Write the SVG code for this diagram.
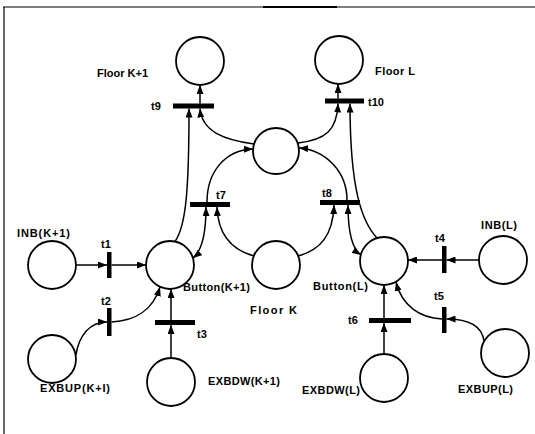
<svg xmlns="http://www.w3.org/2000/svg" width="535" height="434" viewBox="0 0 535 434">
<style>
.place{fill:#fff;stroke:#000;stroke-width:1.8}
.bar{fill:#000}
.arc{fill:none;stroke:#000;stroke-width:1.5}
.lbl{font-family:"Liberation Sans",Arial,sans-serif;font-weight:bold;font-size:11px;fill:#000}
.tl{font-family:"Liberation Sans",Arial,sans-serif;font-weight:bold;font-size:11px;fill:#000}
.frame{stroke:#000;fill:none}
</style>
<defs>
<marker id="ah" viewBox="0 0 9 7" refX="9" refY="3.5" markerWidth="9" markerHeight="7" markerUnits="userSpaceOnUse" orient="auto-start-reverse">
<path d="M0,0 L9,3.5 L0,7 z" fill="#000"/>
</marker>
</defs>
<rect width="535" height="434" fill="#fff"/>
<g id="frame">
<line class="frame" x1="3" y1="7" x2="535" y2="7" stroke-width="1.2"/>
<line class="frame" x1="263" y1="7" x2="337" y2="7" stroke-width="2.2"/>
<line class="frame" x1="4" y1="7" x2="4" y2="434" stroke-width="1.2"/>
</g>
<g id="connectors">
<path class="arc" d="M76 265 H107" marker-end="url(#ah)"/>
<path class="arc" d="M111.5 265 H146" marker-end="url(#ah)"/>
<path class="arc" d="M76 355 C79 335 90 322 107 322" marker-end="url(#ah)"/>
<path class="arc" d="M111.5 322 C135 321 153 310 160 287" marker-end="url(#ah)"/>
<path class="arc" d="M171 358 V325" marker-end="url(#ah)"/>
<path class="arc" d="M171 320 V289" marker-end="url(#ah)"/>
<path class="arc" d="M175 241.5 C186 226 189 190 189 108.5" marker-end="url(#ah)"/>
<path class="arc" d="M200 103.5 V85" marker-end="url(#ah)"/>
<path class="arc" d="M254 144 C225 140 202 132 200 108.5" marker-end="url(#ah)"/>
<path class="arc" d="M207 202 C207 172 225 150 253 149" marker-end="url(#ah)"/>
<path class="arc" d="M193 258 C203 250 206 232 206 207" marker-start="url(#ah)" marker-end="url(#ah)"/>
<path class="arc" d="M254 256 C232 250 218 236 217 207" marker-end="url(#ah)"/>
<path class="arc" d="M479 260 H446.5" marker-end="url(#ah)"/>
<path class="arc" d="M442 260 H408" marker-end="url(#ah)"/>
<path class="arc" d="M484 341 C482 326 470 319 446.5 319" marker-end="url(#ah)"/>
<path class="arc" d="M442 319 C420 318 402 306 396 282" marker-end="url(#ah)"/>
<path class="arc" d="M384 354 V323" marker-end="url(#ah)"/>
<path class="arc" d="M384 318 V285" marker-end="url(#ah)"/>
<path class="arc" d="M377 238 C362 222 350 190 350 103.5" marker-end="url(#ah)"/>
<path class="arc" d="M338 98.5 V84" marker-end="url(#ah)"/>
<path class="arc" d="M298 143 C326 140 337 130 338 103.5" marker-end="url(#ah)"/>
<path class="arc" d="M347 200 C347 172 326 150 299 148" marker-end="url(#ah)"/>
<path class="arc" d="M361 255 C352 249 348 230 348 205" marker-start="url(#ah)" marker-end="url(#ah)"/>
<path class="arc" d="M298 256 C320 250 333 236 334 205" marker-end="url(#ah)"/>
</g>
<g id="floorK1"><circle class="place" cx="200" cy="61" r="24"/><text class="lbl" x="97" y="77" textLength="51">Floor K+1</text></g>
<g id="floorL"><circle class="place" cx="339" cy="60" r="24"/><text class="lbl" x="375" y="75" textLength="40">Floor L</text></g>
<g id="moving"><circle class="place" cx="276" cy="151" r="23"/></g>
<g id="floorK"><circle class="place" cx="276" cy="265" r="24"/><text class="lbl" x="250" y="314" textLength="47">Floor K</text></g>
<g id="buttonK1"><circle class="place" cx="170" cy="265" r="24"/><text class="lbl" x="183" y="291" textLength="67">Button(K+1)</text></g>
<g id="buttonL"><circle class="place" cx="384" cy="261" r="24"/><text class="lbl" x="313" y="290" textLength="55">Button(L)</text></g>
<g id="inbK1"><circle class="place" cx="52" cy="265" r="24"/><text class="lbl" x="17" y="237" textLength="53">INB(K+1)</text></g>
<g id="inbL"><circle class="place" cx="503" cy="260" r="24"/><text class="lbl" x="481" y="229" textLength="36">INB(L)</text></g>
<g id="exbupK1"><circle class="place" cx="52" cy="359" r="24"/><text class="lbl" x="40" y="392" textLength="70">EXBUP(K+I)</text></g>
<g id="exbdwK1"><circle class="place" cx="171" cy="382" r="24"/><text class="lbl" x="208" y="385" textLength="72">EXBDW(K+1)</text></g>
<g id="exbdwL"><circle class="place" cx="384" cy="378" r="24"/><text class="lbl" x="302" y="394" textLength="58">EXBDW(L)</text></g>
<g id="exbupL"><circle class="place" cx="505" cy="353" r="24"/><text class="lbl" x="458" y="393" textLength="55">EXBUP(L)</text></g>
<g id="t9"><rect class="bar" x="173" y="103.5" width="41" height="5"/><text class="tl" x="151" y="110">t9</text></g>
<g id="t10"><rect class="bar" x="325" y="98.5" width="39" height="5"/><text class="tl" x="368" y="106">t10</text></g>
<g id="t7"><rect class="bar" x="190" y="202" width="40" height="5"/><text class="tl" x="216" y="199">t7</text></g>
<g id="t8"><rect class="bar" x="320" y="200" width="40" height="5"/><text class="tl" x="322" y="197">t8</text></g>
<g id="t1"><rect class="bar" x="107" y="252" width="4.5" height="26"/><text class="tl" x="101" y="248">t1</text></g>
<g id="t4"><rect class="bar" x="442" y="246" width="4.5" height="27"/><text class="tl" x="435" y="242">t4</text></g>
<g id="t2"><rect class="bar" x="107" y="308" width="4.5" height="28"/><text class="tl" x="101" y="305">t2</text></g>
<g id="t5"><rect class="bar" x="442" y="307" width="4.5" height="26"/><text class="tl" x="434" y="300">t5</text></g>
<g id="t3"><rect class="bar" x="155" y="320" width="40" height="5"/><text class="tl" x="197" y="338">t3</text></g>
<g id="t6"><rect class="bar" x="369" y="318" width="42" height="5"/><text class="tl" x="348" y="324">t6</text></g>
</svg>
